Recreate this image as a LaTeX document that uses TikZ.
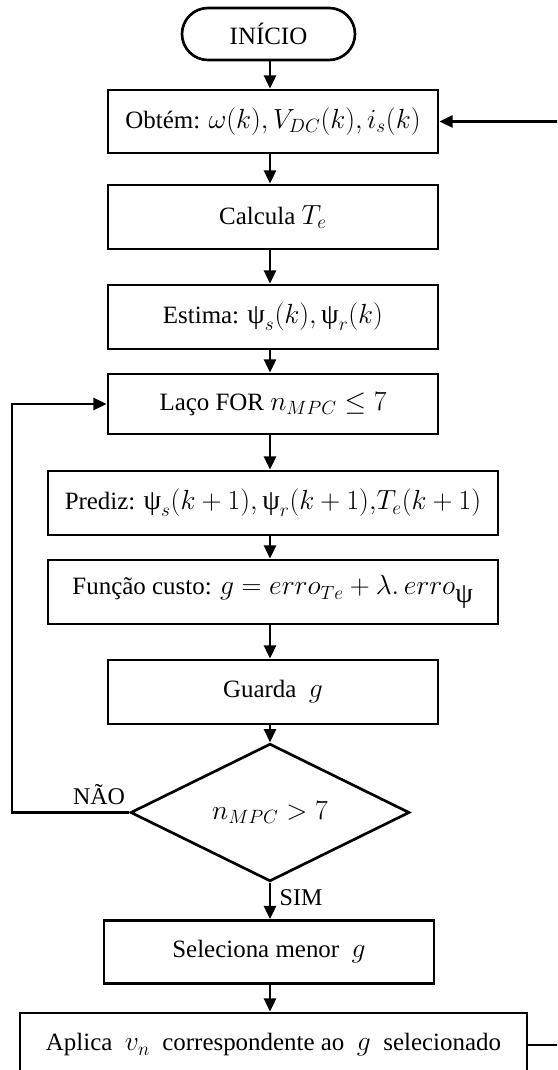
\documentclass[tikz,border=0pt]{standalone}
\usepackage{fontspec}
\setmainfont{Liberation Serif}
\usetikzlibrary{arrows.meta,shapes.geometric}
\newcommand{\ups}{\mbox{ψ}}
\newcommand{\mth}[1]{{\fontsize{21}{24}\selectfont$#1$}}
\begin{document}
\begin{tikzpicture}[x=0.75pt,y=-0.75pt,
  base/.style={draw, line width=2pt, font=\fontsize{18.7}{22}\selectfont, inner sep=0pt, align=center},
  procbox/.style={base, rectangle, minimum height=48pt, minimum width=247.5pt},
  widebox/.style={procbox, minimum width=337.5pt},
  termbox/.style={base, rectangle, rounded corners=19.5pt, minimum width=129.75pt, minimum height=39pt},
  decbox/.style={base, diamond, minimum width=209.25pt, minimum height=99.75pt},
  lbl/.style={font=\fontsize{18}{21}\selectfont, inner sep=0pt},
  arr/.style={line width=2pt, -{Triangle[length=10pt,width=9pt]}}]
\useasboundingbox (0,0) rectangle (557,1070);
\clip (0,0) rectangle (557,1070);
\node[termbox] (start) at (268.5,34) {INÍCIO};
\node[procbox, minimum height=47.25pt] (obt) at (273,121.5) {Obtém: \mth{\omega(k), V_{DC}(k), i_s(k)}};
\node[procbox] (calc) at (273,217) {Calcula \mth{T_e}};
\node[procbox] (est) at (273,317) {Estima: \mth{\ups_s(k), \ups_r(k)}};
\node[procbox, minimum height=45pt] (laco) at (273,404) {Laço FOR \mth{n_{MPC} \le 7}};
\node[widebox] (pred) at (273,503) {Prediz: \mth{\ups_s(k+1), \ups_r(k+1),\!T_e(k+1)}};
\node[widebox] (custo) at (273,592) {Função custo: \mth{g = erro_{Te} + \lambda.\,erro_{\ups}}};
\node[procbox] (guarda) at (273,692) {Guarda \ \mth{g}};
\node[decbox] (dec) at (270,812.5) {\mth{n_{MPC} > 7}};
\node[procbox, minimum height=47.25pt] (sel) at (269,952) {Seleciona menor \ \mth{g}};
\node[procbox, minimum width=380.25pt] (apl) at (273.5,1045) {Aplica \ \mth{v_n} \ correspondente ao \ \mth{g} \ selecionado};
\node[lbl] (nao) at (99,795) {NÃO};
\node[lbl] (sim) at (301,898) {SIM};
\coordinate (rtop) at (590,121.5);
\coordinate (ltop) at (12,404);
\draw[arr] (start.south -| 270,0) -- (obt.north -| 270,0);
\draw[arr] (obt.south -| 270,0) -- (calc.north -| 270,0);
\draw[arr] (calc.south -| 270,0) -- (est.north -| 270,0);
\draw[arr] (est.south -| 270,0) -- (laco.north -| 270,0);
\draw[arr] (laco.south -| 270,0) -- (pred.north -| 270,0);
\draw[arr] (pred.south -| 270,0) -- (custo.north -| 270,0);
\draw[arr] (custo.south -| 270,0) -- (guarda.north -| 270,0);
\draw[arr] (guarda.south -| 270,0) -- (dec.north);
\draw[arr] (dec.south) -- (sel.north -| 270,0);
\draw[arr] (sel.south -| 270,0) -- (apl.north -| 270,0);
\draw[arr] (dec.west) -| (ltop) -- (laco.west);
\draw[arr] (apl.east) -| (rtop) -- (obt.east);
\end{tikzpicture}
\end{document}
